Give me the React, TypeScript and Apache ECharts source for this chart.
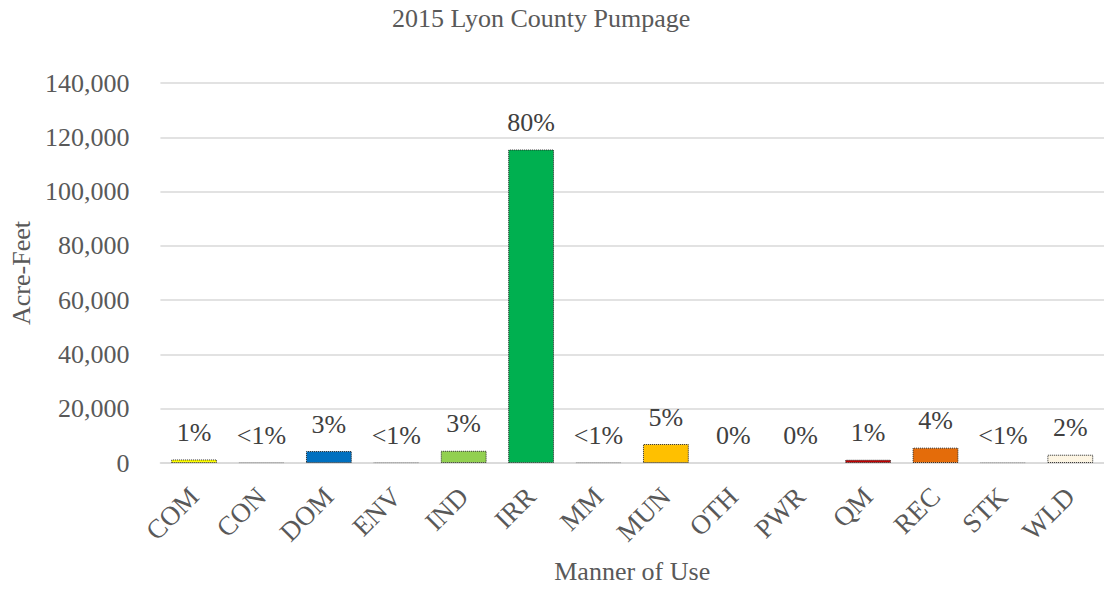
import React, { useEffect, useRef } from "react";
import * as echarts from "echarts";

const categories = ["COM", "CON", "DOM", "ENV", "IND", "IRR", "MM", "MUN", "OTH", "PWR", "QM", "REC", "STK", "WLD"];
const acreFeet = [1300, 250, 4400, 250, 4500, 115500, 250, 7000, 0, 0, 1200, 5650, 250, 3050];
const pctLabels = ["1%", "<1%", "3%", "<1%", "3%", "80%", "<1%", "5%", "0%", "0%", "1%", "4%", "<1%", "2%"];
const barColors = ["#FFFF00", "#D9D9D9", "#0070C0", "#D9D9D9", "#92D050", "#00B050", "#D9D9D9", "#FFC000", "#D9D9D9", "#D9D9D9", "#C00000", "#E46C0A", "#D9D9D9", "#FDF5E3"];
const barBorders = ["#262626", "#A6A6A6", "#262626", "#A6A6A6", "#262626", "#262626", "#A6A6A6", "#262626", "transparent", "transparent", "#262626", "#262626", "#A6A6A6", "#262626"];
const yTicks = { min: 0, max: 140000, interval: 20000 };

const FONT = "'Liberation Serif', 'Times New Roman', serif";

export default function App() {
  const ref = useRef<HTMLDivElement>(null);
  useEffect(() => {
    if (!ref.current) return;
    const chart = echarts.init(ref.current, null, { renderer: "svg" });
    chart.setOption({
      animation: false,
      backgroundColor: "#ffffff",
      title: {
        text: "2015 Lyon County Pumpage",
        left: 387,
        top: 0,
        textStyle: { fontFamily: FONT, fontSize: 26, fontWeight: "normal", color: "#595959" },
      },
      grid: { left: 158, top: 83, width: 953, height: 380, containLabel: false },
      xAxis: {
        type: "category",
        data: categories,
        name: "Manner of Use",
        nameLocation: "middle",
        nameGap: 95,
        nameTextStyle: { fontFamily: FONT, fontSize: 26, color: "#595959" },
        axisLine: { lineStyle: { color: "#D9D9D9", width: 1.5 } },
        axisTick: { show: false },
        axisLabel: { rotate: 45, fontFamily: FONT, fontSize: 27, color: "#595959", margin: 29, interval: 0 },
      },
      yAxis: {
        type: "value",
        min: yTicks.min,
        max: yTicks.max,
        interval: yTicks.interval,
        name: "Acre-Feet",
        nameLocation: "middle",
        nameGap: 124,
        nameTextStyle: { fontFamily: FONT, fontSize: 26, color: "#595959" },
        axisLine: { show: false },
        axisTick: { show: false },
        splitLine: { lineStyle: { color: "#D9D9D9", width: 1.5 } },
        axisLabel: {
          fontFamily: FONT,
          fontSize: 26,
          color: "#595959",
          margin: 31,
          formatter: (v: number) => v.toLocaleString("en-US"),
        },
      },
      series: [
        {
          type: "bar",
          barWidth: "68%",
          data: acreFeet.map((v, i) => ({
            value: v,
            itemStyle: { color: barColors[i], borderColor: barBorders[i] },
          })),
          itemStyle: { borderWidth: 1, borderType: "dotted" },
          label: {
            show: true,
            position: "top",
            distance: 14,
            fontFamily: FONT,
            fontSize: 26,
            color: "#404040",
            formatter: (p: any) => pctLabels[p.dataIndex],
          },
        },
      ],
    });
    return () => chart.dispose();
  }, []);
  return <div ref={ref} style={{ width: 1104, height: 592, position: "absolute", left: 0, top: 0 }} />;
}
